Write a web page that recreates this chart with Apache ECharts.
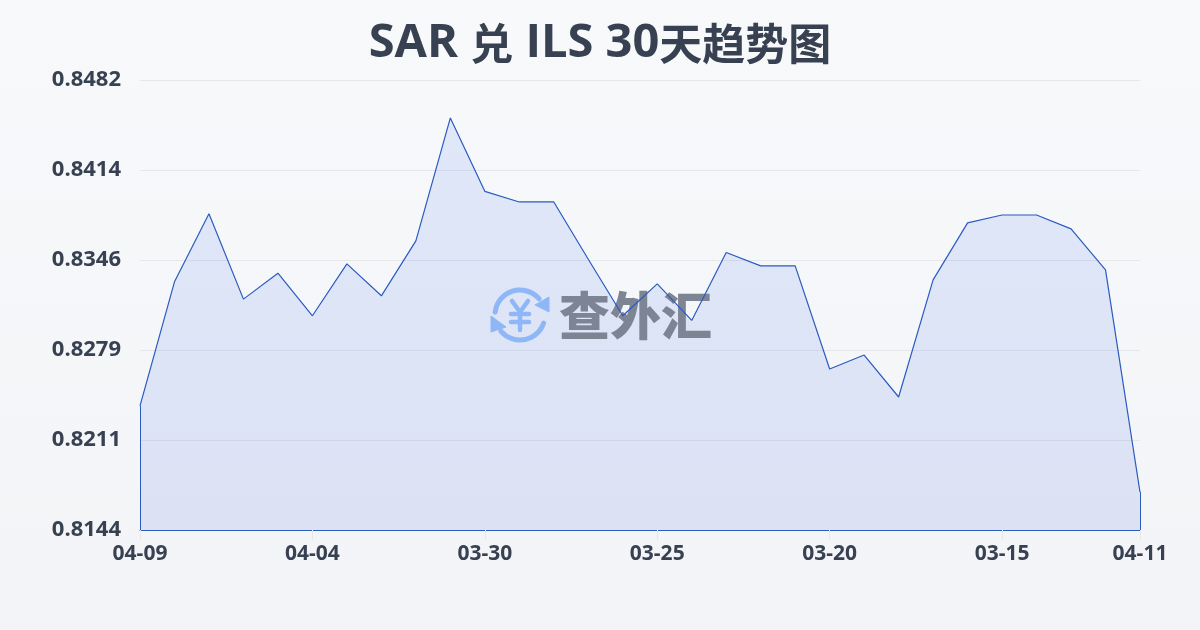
<!DOCTYPE html>
<html>
<head>
<meta charset="utf-8">
<title>SAR 兑 ILS 30天趋势图</title>
<script src="https://cdn.jsdelivr.net/npm/echarts@6/dist/echarts.min.js"></script>
<style>
  html, body { margin: 0; padding: 0; }
  #chart { width: 1200px; height: 630px; }
</style>
</head>
<body>
<div id="chart"></div>
<script>
const FONT = '"Open Sans", "Noto Sans CJK SC", sans-serif';
const CJK_FONT = '"Noto Sans CJK SC", sans-serif';

// 日期（从近到远）
const dates = [
  '04-09', '04-08', '04-07', '04-06', '04-05', '04-04', '04-03', '04-02', '04-01', '03-31',
  '03-30', '03-29', '03-28', '03-27', '03-26', '03-25', '03-24', '03-23', '03-22', '03-21',
  '03-20', '03-19', '03-18', '03-17', '03-16', '03-15', '03-14', '03-13', '03-12', '04-11'
];
const rates = [
  0.82368, 0.83300, 0.83812, 0.83170, 0.83365, 0.83045, 0.83435, 0.83195, 0.83608, 0.84531,
  0.83980, 0.83900, 0.83900, 0.83470, 0.83045, 0.83285, 0.83010, 0.83520, 0.83420, 0.83420,
  0.82645, 0.82750, 0.82435, 0.83315, 0.83743, 0.83802, 0.83802, 0.83698, 0.83390, 0.81721
];
const yTicks = [0.81436, 0.82112, 0.82788, 0.83464, 0.8414, 0.84816];
const yMin = 0.81436;
const yMax = 0.84816;
const lastIndex = dates.length - 1;

const chart = echarts.init(document.getElementById('chart'));

const showTick = i => i % 5 === 0 || i === lastIndex;
const deg = d => d * Math.PI / 180;
const LOGO_BLUE = '#8fb6f6';
const LINE_BLUE = '#2a5bbf';

chart.setOption({
  animation: false,
  backgroundColor: new echarts.graphic.LinearGradient(0, 0, 0, 1, [
    { offset: 0, color: '#f8f9fb' },
    { offset: 1, color: '#f3f4f7' }
  ]),
  title: {
    text: '{l|SAR }{c|兑}{l| ILS 30}{c|天趋势图}',
    left: 'center',
    top: 15,
    textStyle: {
      color: '#374151',
      rich: {
        l: { color: '#374151', fontFamily: FONT, fontSize: 47, fontWeight: 'bold' },
        c: { color: '#374151', fontFamily: CJK_FONT, fontSize: 43, fontWeight: 'bold' }
      }
    }
  },
  grid: { left: 140, right: 60, top: 80, bottom: 100 },
  xAxis: {
    type: 'category',
    data: dates,
    boundaryGap: false,
    axisLine: { lineStyle: { color: LINE_BLUE, width: 1 } },
    axisTick: { show: true, length: 10, interval: showTick, lineStyle: { color: '#e5e7eb' } },
    axisLabel: {
      interval: showTick,
      margin: 14,
      color: '#374151',
      fontFamily: FONT,
      fontSize: 21,
      fontWeight: 'bold'
    },
    splitLine: { show: false }
  },
  yAxis: {
    type: 'value',
    min: yMin,
    max: yMax,
    axisLine: { show: false },
    axisTick: { show: false, customValues: yTicks },
    axisLabel: {
      customValues: yTicks,
      margin: 19,
      color: '#374151',
      fontFamily: FONT,
      fontSize: 22,
      fontWeight: 'bold',
      padding: [0, 0, 4, 0],
      formatter: v => v.toFixed(4)
    },
    splitLine: { show: true, lineStyle: { color: '#e5e7eb', width: 1 } }
  },
  series: [
    {
      // 面积在水印下面，折线在水印上面
      type: 'line',
      data: rates,
      z: 1,
      symbol: 'none',
      lineStyle: { width: 0 },
      areaStyle: {
        color: new echarts.graphic.LinearGradient(0, 0, 0, 1, [
          { offset: 0, color: 'rgba(37,99,235,0.16)' },
          { offset: 1, color: 'rgba(29,78,216,0.16)' }
        ])
      }
    },
    {
      type: 'line',
      data: rates,
      z: 3,
      symbol: 'none',
      lineStyle: { color: LINE_BLUE, width: 1.2 },
      // 面积两侧的封边
      markLine: {
        silent: true,
        symbol: 'none',
        label: { show: false },
        lineStyle: { color: LINE_BLUE, width: 1, type: 'solid' },
        data: [
          [{ xAxis: dates[0], yAxis: yMin }, { xAxis: dates[0], yAxis: rates[0] }],
          [{ xAxis: dates[lastIndex], yAxis: yMin }, { xAxis: dates[lastIndex], yAxis: rates[lastIndex] }]
        ]
      }
    }
  ],
  // 水印 logo
  graphic: [
    {
      type: 'arc',
      z: 2,
      shape: { cx: 520, cy: 315, r: 25, startAngle: deg(187), endAngle: deg(320) },
      style: { fill: 'none', stroke: LOGO_BLUE, lineWidth: 5, lineCap: 'round' }
    },
    {
      type: 'arc',
      z: 2,
      shape: { cx: 520, cy: 315, r: 25, startAngle: deg(19), endAngle: deg(140) },
      style: { fill: 'none', stroke: LOGO_BLUE, lineWidth: 5, lineCap: 'round' }
    },
    {
      type: 'polygon',
      z: 2,
      shape: { points: [[549, 297], [549, 312], [535, 305]] },
      style: { fill: LOGO_BLUE, stroke: LOGO_BLUE, lineWidth: 1, lineJoin: 'round' }
    },
    {
      type: 'polygon',
      z: 2,
      shape: { points: [[491, 316], [491, 332], [506, 327]] },
      style: { fill: LOGO_BLUE, stroke: LOGO_BLUE, lineWidth: 1, lineJoin: 'round' }
    },
    {
      type: 'polyline',
      z: 2,
      shape: { points: [[512, 301], [520, 312], [528, 301]] },
      style: { fill: 'none', stroke: LOGO_BLUE, lineWidth: 4.5, lineCap: 'round', lineJoin: 'round' }
    },
    {
      type: 'line',
      z: 2,
      shape: { x1: 511, y1: 314, x2: 529, y2: 314 },
      style: { stroke: LOGO_BLUE, lineWidth: 4.5, lineCap: 'round' }
    },
    {
      type: 'line',
      z: 2,
      shape: { x1: 511, y1: 322, x2: 529, y2: 322 },
      style: { stroke: LOGO_BLUE, lineWidth: 4.5, lineCap: 'round' }
    },
    {
      type: 'line',
      z: 2,
      shape: { x1: 520, y1: 312, x2: 520, y2: 330 },
      style: { stroke: LOGO_BLUE, lineWidth: 4.5, lineCap: 'round' }
    },
    {
      type: 'text',
      z: 2,
      x: 559,
      y: 290,
      style: {
        text: '查外汇',
        fill: '#7d8494',
        font: '900 51px "Noto Sans CJK SC", sans-serif'
      }
    }
  ]
});
</script>
</body>
</html>
